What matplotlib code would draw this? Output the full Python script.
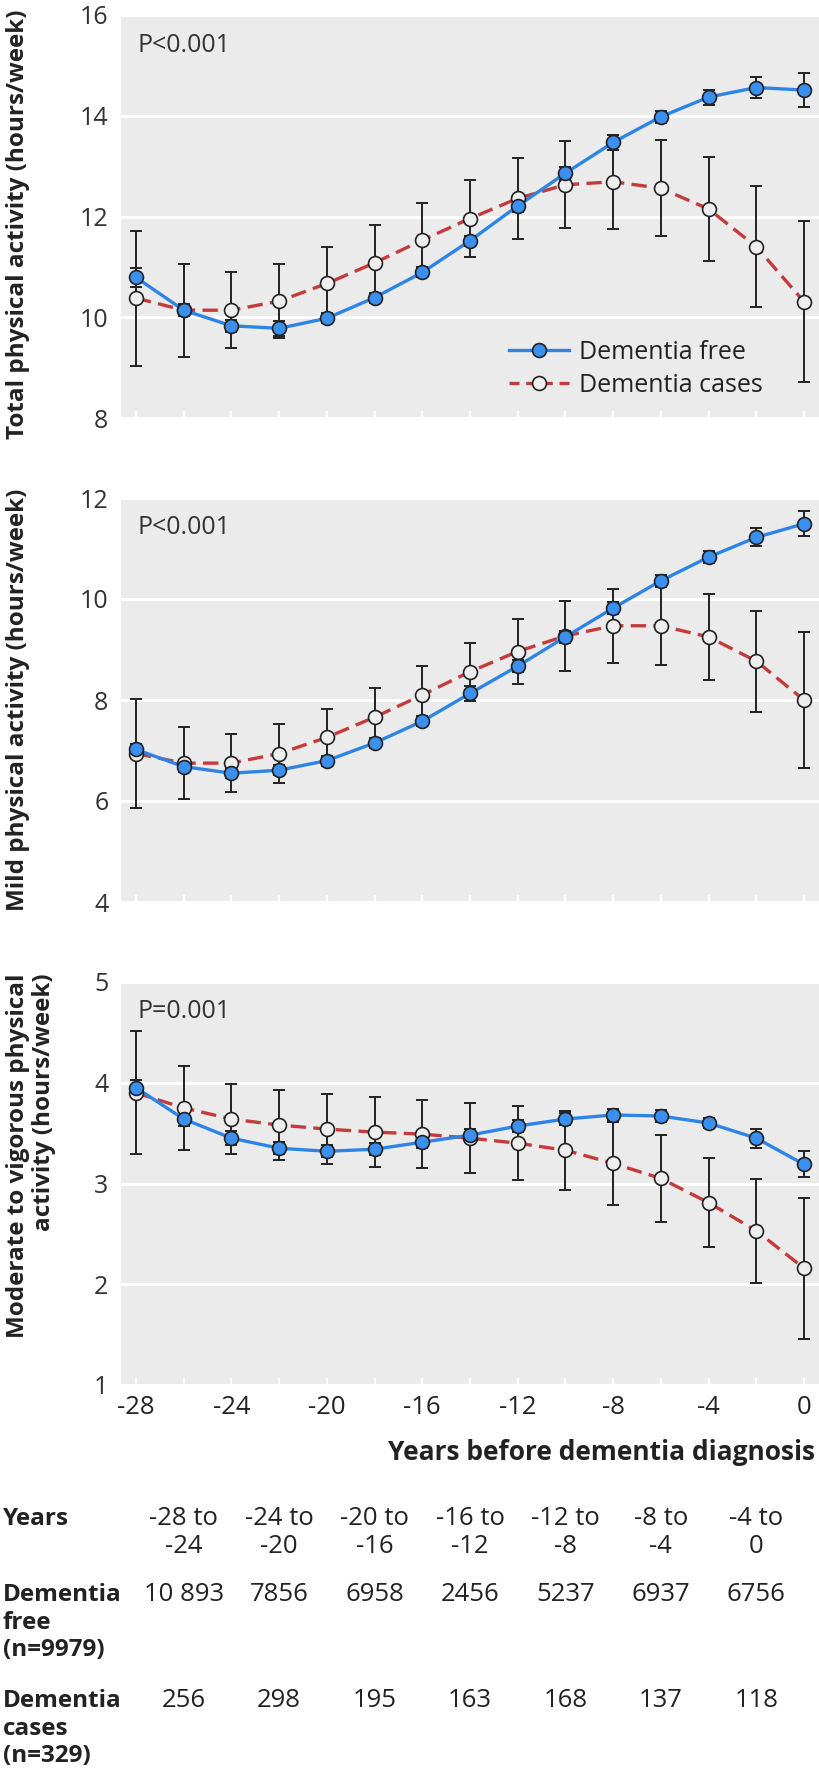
import matplotlib
matplotlib.use('Agg')
import matplotlib.pyplot as plt
import matplotlib.transforms as mtransforms
from matplotlib.ticker import MultipleLocator
from matplotlib.lines import Line2D

plt.rcParams['font.family'] = ['Open Sans', 'DejaVu Sans']

years = [-28, -26, -24, -22, -20, -18, -16, -14, -12, -10, -8, -6, -4, -2, 0]

total_free = [10.79, 10.14, 9.83, 9.78, 9.98, 10.39, 10.89, 11.52, 12.21, 12.86, 13.47, 13.98, 14.37, 14.56, 14.51]
total_free_err = [0.18, 0.12, 0.12, 0.15, 0.10, 0.10, 0.10, 0.10, 0.12, 0.13, 0.15, 0.12, 0.15, 0.21, 0.33]
total_cases = [10.38, 10.14, 10.14, 10.32, 10.67, 11.08, 11.53, 11.96, 12.36, 12.63, 12.69, 12.56, 12.15, 11.40, 10.31]
total_cases_err = [1.34, 0.92, 0.76, 0.74, 0.73, 0.75, 0.74, 0.76, 0.81, 0.86, 0.93, 0.95, 1.03, 1.20, 1.60]

mild_free = [7.02, 6.68, 6.55, 6.61, 6.80, 7.15, 7.58, 8.13, 8.67, 9.25, 9.82, 10.36, 10.83, 11.22, 11.49]
mild_free_err = [0.10, 0.10, 0.10, 0.10, 0.10, 0.10, 0.10, 0.15, 0.12, 0.12, 0.12, 0.12, 0.12, 0.18, 0.25]
mild_cases = [6.94, 6.75, 6.75, 6.94, 7.26, 7.66, 8.10, 8.56, 8.96, 9.27, 9.47, 9.47, 9.25, 8.77, 8.00]
mild_cases_err = [1.07, 0.72, 0.58, 0.58, 0.56, 0.57, 0.58, 0.57, 0.64, 0.69, 0.73, 0.78, 0.85, 1.00, 1.34]

mvpa_free = [3.95, 3.64, 3.45, 3.35, 3.32, 3.34, 3.41, 3.48, 3.57, 3.64, 3.68, 3.67, 3.60, 3.45, 3.19]
mvpa_free_err = [0.08, 0.07, 0.07, 0.06, 0.06, 0.06, 0.06, 0.06, 0.06, 0.06, 0.06, 0.06, 0.05, 0.095, 0.13]
mvpa_cases = [3.90, 3.75, 3.64, 3.58, 3.54, 3.51, 3.49, 3.45, 3.40, 3.33, 3.20, 3.05, 2.81, 2.53, 2.16]
mvpa_cases_err = [0.61, 0.42, 0.35, 0.35, 0.35, 0.35, 0.34, 0.35, 0.37, 0.39, 0.41, 0.43, 0.445, 0.515, 0.70]

period_starts = [-28, -24, -20, -16, -12, -8, -4]
period_labels = ["-28 to\n-24", "-24 to\n-20", "-20 to\n-16", "-16 to\n-12", "-12 to\n-8", "-8 to\n-4", "-4 to\n0"]
free_n = ["10 893", "7856", "6958", "2456", "5237", "6937", "6756"]
cases_n = ["256", "298", "195", "163", "168", "137", "118"]

panels = [
    ("Total physical activity (hours/week)", "P<0.001", (8, 16), 2,
     total_free, total_free_err, total_cases, total_cases_err),
    ("Mild physical activity (hours/week)", "P<0.001", (4, 12), 2,
     mild_free, mild_free_err, mild_cases, mild_cases_err),
    ("Moderate to vigorous physical\nactivity (hours/week)", "P=0.001", (1, 5), 1,
     mvpa_free, mvpa_free_err, mvpa_cases, mvpa_cases_err),
]

BLUE_LINE = '#2C85E6'
BLUE_FILL = '#3A8FEF'
RED = '#C53A3A'
WHITE_FILL = '#EEEEEE'
INK = '#222222'
BG = '#EBEBEB'
DASH = (4.6, 2.2)

W, H = 820, 1773
fig = plt.figure(figsize=(W / 100, H / 100), dpi=100)

left_px, right_px = 121, 819
tops = [15, 498, 982]
bottoms = [418, 902, 1385]

axes = []
for i, (ylabel, ptxt, ylim, ystep, f, fe, c, ce) in enumerate(panels):
    ax = fig.add_axes([left_px / W, 1 - bottoms[i] / H, (right_px - left_px) / W,
                       (bottoms[i] - tops[i]) / H])
    axes.append(ax)
    ax.set_facecolor(BG)
    for s in ax.spines.values():
        s.set_visible(False)
    ax.set_xlim(-28.63, 0.63)
    ax.set_ylim(*ylim)
    ax.yaxis.set_major_locator(MultipleLocator(ystep))
    ax.grid(axis='y', color='white', linewidth=2.2)
    ax.set_axisbelow(True)
    ax.xaxis.set_major_locator(MultipleLocator(4))
    ax.xaxis.set_minor_locator(MultipleLocator(2))
    ax.tick_params(axis='x', which='both', direction='in', color='white', length=5,
                   width=1.6, labelsize=18.5, labelcolor=INK, pad=7.5)
    ax.tick_params(axis='y', length=0, labelsize=18, labelcolor='#333333', pad=9)
    if i < 2:
        ax.tick_params(axis='x', which='both', labelbottom=False)

    # lines
    ax.plot(years, c, color=RED, lw=2.4, dashes=DASH, zorder=3)
    ax.plot(years, f, color=BLUE_LINE, lw=2.4, zorder=3.5)
    # error bars
    ax.errorbar(years, c, yerr=ce, fmt='none', ecolor=INK, elinewidth=1.4,
                capsize=4.3, capthick=1.4, zorder=4)
    ax.errorbar(years, f, yerr=fe, fmt='none', ecolor=INK, elinewidth=1.4,
                capsize=4.3, capthick=1.4, zorder=4)
    # markers
    ax.plot(years, c, ls='none', marker='o', ms=10, mfc=WHITE_FILL, mec=INK, mew=1.2, zorder=5)
    ax.plot(years, f, ls='none', marker='o', ms=10, mfc=BLUE_FILL, mec=INK, mew=1.2, zorder=6)

    ax.text(0.024, 1 - 30 / (bottoms[i] - tops[i]), ptxt, transform=ax.transAxes,
            ha='left', va='center', fontsize=18, color='#333333')

    # y label
    if '\n' in ylabel:
        fig.text(31 / W, 1 - 1156 / H, ylabel, rotation=90, ha='center', va='center',
                 multialignment='right', fontsize=17.5, fontweight='bold', color=INK,
                 linespacing=1.1)
    else:
        yc = (tops[i] + bottoms[i]) / 2 + (8 if i == 0 else 0)
        fig.text(18 / W, 1 - yc / H, ylabel, rotation=90, ha='center', va='center',
                 fontsize=17.5, fontweight='bold', color=INK)

ax1, ax2, ax3 = axes

handles = [
    Line2D([], [], color=BLUE_LINE, lw=2.4, marker='o', ms=10, mfc=BLUE_FILL, mec=INK, mew=1.2),
    Line2D([], [], color=RED, lw=2.4, dashes=(3.0, 2.0), marker='o', ms=10, mfc=WHITE_FILL,
           mec=INK, mew=1.2),
]
ax1.legend(handles, ["Dementia free", "Dementia cases"], loc='center left',
           bbox_to_anchor=(0.556, 0.122), frameon=False, fontsize=18, handlelength=2.4,
           handletextpad=0.4, labelspacing=0.3, borderpad=0, borderaxespad=0,
           labelcolor='#222222')

ax3.set_xticks(range(-28, 1, 4))
ax3.set_xticklabels([str(v) for v in range(-28, 1, 4)])

fig.text(815 / W, 1 - 1460 / H, "Years before dementia diagnosis", ha='right', va='baseline',
         fontsize=19, fontweight='bold', color=INK)

# table below the chart (each line placed on its own baseline)
trans = mtransforms.blended_transform_factory(ax3.transData, fig.transFigure)
row_base = [1525, 1601, 1707]
line_step = 27.7
row_labels = ["Years", "Dementia\nfree\n(n=9979)", "Dementia\ncases\n(n=329)"]


def put_lines(x, y0, text, transform, **kw):
    for k, line in enumerate(text.split('\n')):
        fig.text(x, 1 - (y0 + k * line_step) / H, line, transform=transform,
                 va='baseline', color=INK, **kw)


for lab, yb in zip(row_labels, row_base):
    put_lines(3 / W, yb, lab, fig.transFigure, ha='left', fontsize=17.5, fontweight='bold')
for s, pl, fn, cn in zip(period_starts, period_labels, free_n, cases_n):
    xc = s + 2
    put_lines(xc, row_base[0], pl, trans, ha='center', fontsize=18.5)
    put_lines(xc, row_base[1], fn, trans, ha='center', fontsize=18.5)
    put_lines(xc, row_base[2], cn, trans, ha='center', fontsize=18.5)

fig.savefig('out.png', dpi=100, facecolor='white')
